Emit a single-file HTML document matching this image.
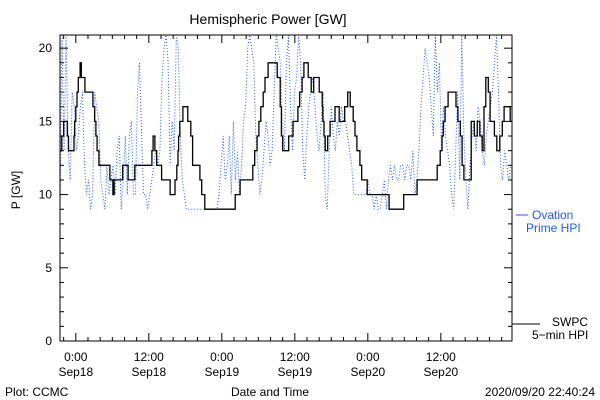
<!DOCTYPE html>
<html><head><meta charset="utf-8">
<style>
body{margin:0;background:#fff;}
svg{display:block;font-family:"Liberation Sans",sans-serif;font-size:12px;}
</style></head>
<body>
<svg id="chart" width="600" height="400">
<rect width="600" height="400" fill="#fff"/>
<text x="268" y="24" text-anchor="middle" font-size="14">Hemispheric Power [GW]</text>
<text transform="translate(20,190) rotate(-90)" text-anchor="middle">P [GW]</text>
<g id="axes"></g>
<g id="series"></g>
<rect x="60" y="35" width="452" height="306" fill="none" stroke="#000"/>
<g>
<line x1="516" y1="215" x2="528" y2="215" stroke="#1e5bff"/>
<text x="532" y="219" fill="#1e5bff">Ovation</text>
<text x="526" y="232" fill="#1e5bff">Prime HPI</text>
</g>
<g>
<line x1="512" y1="324" x2="540" y2="324" stroke="#000"/>
<text x="552" y="326">SWPC</text>
<text x="532" y="339">5−min HPI</text>
</g>
<text x="5" y="396">Plot: CCMC</text>
<text x="270" y="396" text-anchor="middle">Date and Time</text>
<text x="595" y="396" text-anchor="end">2020/09/20 22:40:24</text>
</svg>
<script>
const yTicks=[0,5,10,15,20];
const xTickHours=[0,12,24,36,48,60];
const xTickTimes=["0:00","12:00","0:00","12:00","0:00","12:00"];
const xTickDates=["Sep18","Sep18","Sep19","Sep19","Sep20","Sep20"];
const swpcHours=[-2.6,-2.3,-2.0,-1.4,-1.2,-0.3,-0.2,0,0.2,0.4,0.7,0.9,1.5,2.8,3.1,3.3,3.5,3.8,5.6,6.1,6.3,7.7,8.6,9.7,12.5,12.7,13.0,13.3,14.1,15.5,16.3,16.6,16.8,16.9,17.1,17.6,18.4,18.9,19.2,20.4,20.7,21.2,26.2,27.0,29.1,29.4,29.8,30.1,30.4,30.8,31.1,31.6,33.1,33.6,33.8,34.0,35.0,35.7,36.5,36.8,37.2,37.5,38.2,38.7,39.1,40.0,40.5,40.6,40.8,41.0,41.4,41.8,42.6,43.3,44.2,44.7,45.1,45.6,45.9,46.2,46.7,47.0,47.9,51.5,53.9,56.1,59.4,59.9,60.2,60.4,60.7,61.2,62.5,62.8,63.2,63.5,63.8,65.0,65.5,66.0,66.4,66.8,67.1,67.4,67.8,68.1,68.8,69.2,69.7,70.1,70.4,70.9,71.4];
const swpcValues=[13,14,15,14,13,14,15,16,17,18,19,18,17,16,15,14,13,12,11,10,11,12,11,12,13,14,13,12,11,10,11,12,13,14,15,16,15,14,12,11,10,9,10,11,12,13,14,15,16,17,18,19,18,16,14,13,14,15,16,17,18,19,18,17,18,17,16,15,14,13,14,15,16,15,16,17,16,15,14,13,12,11,10,9,10,11,12,13,14,15,16,17,16,15,14,12,11,15,14,15,14,13,16,18,17,15,14,13,14,15,16,16,15];
const ovationValues=[9,21,13,21,13,11,17,16,13,14,16,17,12,10,11,9,10,17,16,15,11,10,9,12,10,11,12,10,13,14,9,11,14,10,14,15,10,10,17,19,14,10,10,9,10,11,12,13,12,13,18,20,21,19,12,15,13,21,20,14,11,10,9,9,9,9,9,9,9,9,9,9,9,9,9,9,9,9,10,12,14,11,12,14,10,15,11,13,10,12,15,16,20,21,20,19,14,12,10,11,13,15,14,12,13,17,21,20,19,15,13,19,21,16,13,17,18,21,19,13,11,14,16,17,18,16,14,13,15,17,10,9,13,16,14,13,15,14,16,15,15,14,13,12,10,10,10,10,10,10,10,11,10,10,9,10,9,9,10,11,9,11,12,11,12,11,11,12,12,11,12,12,11,13,10,11,13,16,18,20,19,18,16,14,21,17,19,13,16,14,13,12,10,9,13,17,11,21,14,11,9,12,14,15,13,16,15,13,12,14,15,16,17,19,21,17,12,11,13,12,11,12];
const ovationStart=-2.6, ovationEnd=71.5;
const X0=60,X1=512,Y0=341,Y1=35,HMIN=-2.6,HMAX=71.7,VMIN=0,VMAX=20.9;
const xs=h=>X0+(h-HMIN)/(HMAX-HMIN)*(X1-X0);
const ys=v=>Y0-(v-VMIN)/(VMAX-VMIN)*(Y0-Y1);
const NS="http://www.w3.org/2000/svg";
const axes=document.getElementById('axes'),ser=document.getElementById('series');
function mk(t,a,p){const e=document.createElementNS(NS,t);for(const k in a)e.setAttribute(k,a[k]);p.appendChild(e);return e;}
for(let v=0;v<=20;v++){const y=ys(v);const len=v%5===0?8:4;
 const t=mk('line',{x1:X0,y1:y,x2:X0+len,y2:y,stroke:'#000'},axes);
 
 
 const t2=mk('line',{x1:X1,y1:y,x2:X1-len,y2:y,stroke:'#000'},axes);
 
 }
yTicks.forEach(v=>{const t=mk('text',{x:X0-8,y:ys(v)+4,'text-anchor':'end'},axes);t.textContent=v;
 
 });
for(let h=-2;h<=70;h+=2){const x=xs(h);const len=h%12===0?8:4;
 const t=mk('line',{x1:x,y1:Y0,x2:x,y2:Y0-len,stroke:'#000'},axes);
 
 
 const t2=mk('line',{x1:x,y1:Y1,x2:x,y2:Y1+len,stroke:'#000'},axes);
 
 }
xTickHours.forEach((h,i)=>{const a=mk('text',{x:xs(h),y:361,'text-anchor':'middle'},axes);a.textContent=xTickTimes[i];
 
 
 const b=mk('text',{x:xs(h),y:376,'text-anchor':'middle'},axes);b.textContent=xTickDates[i];
 
 });
// ovation dotted
let d='';const n=ovationValues.length,dt=(ovationEnd-ovationStart)/(n-1);
ovationValues.forEach((v,i)=>{d+=(i?'L':'M')+xs(ovationStart+i*dt).toFixed(1)+','+ys(Math.min(v,VMAX)).toFixed(1);});
const op=mk('path',{d:d,fill:'none',stroke:'#1e5bff','stroke-width':1,'stroke-dasharray':'1,2'},ser);


// swpc step
let s='';swpcHours.forEach((h,i)=>{const x=xs(h).toFixed(1),y=ys(swpcValues[i]).toFixed(1);
 if(i===0)s+='M'+x+','+y;else s+='H'+x+'V'+y;});
s+='H'+X1;
const sp=mk('path',{d:s,fill:'none',stroke:'#000','stroke-width':1.3},ser);


</script>
</body></html>
